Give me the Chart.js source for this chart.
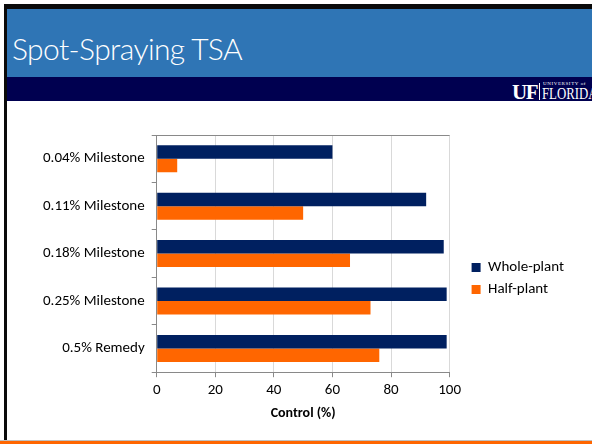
<!DOCTYPE html>
<html>
<head>
<meta charset="utf-8">
<script src="https://cdn.jsdelivr.net/npm/chart.js@4.4.1/dist/chart.umd.min.js"></script>
<style>
  html, body { margin: 0; padding: 0; background: #fff; }
  #slide { position: relative; width: 592px; height: 444px; overflow: hidden; background: #fff; font-family: Lato, "Open Sans", sans-serif; }
  #topline { position: absolute; left: 4px; top: 4px; width: 588px; height: 5px; background: #0a0a0a; }
  #leftline { position: absolute; left: 4px; top: 4px; width: 3px; height: 436px; background: #0a0a0a; }
  #header { position: absolute; left: 7px; top: 9px; width: 585px; height: 68px; background: #2f75b5; }
  #header h1 { margin: 0; position: absolute; left: 5px; top: 21px; color: #fff; font-weight: 300; font-size: 30px; letter-spacing: -0.6px; font-family: Lato, "Open Sans", sans-serif; }
  #band { position: absolute; left: 7px; top: 77px; width: 585px; height: 24px; background: #000050; }
  #logo { position: absolute; left: 512px; top: 80px; color: #fff; font-family: "Liberation Serif", serif; white-space: nowrap; }
  #logo .uf { position: absolute; left: 0; top: 0px; font-size: 21px; font-weight: bold; letter-spacing: -1.5px; }
  #logo .bar { position: absolute; left: 27px; top: 3px; width: 1px; height: 17px; background: #fff; }
  #logo .univ { position: absolute; left: 31px; top: 1px; font-size: 5px; letter-spacing: 0.6px; }
  #logo .fl { position: absolute; left: 30px; top: 5px; font-size: 16px; transform: scaleX(0.8); transform-origin: left top; }
  #grayline { position: absolute; left: 0; top: 440px; width: 592px; height: 1px; background: #c0c0c0; }
  #orange { position: absolute; left: 0; top: 441px; width: 592px; height: 3px; background: #ff6600; }
  #wrap { position: absolute; left: 7px; top: 101px; width: 585px; height: 338px; }
</style>
</head>
<body>
<div id="slide">
  <div id="header"><h1>Spot-Spraying TSA</h1></div>
  <div id="band"></div>
  <div id="logo"><span class="uf">UF</span><span class="bar"></span><span class="univ">UNIVERSITY of</span><span class="fl">FLORIDA</span></div>
  <div id="topline"></div>
  <div id="leftline"></div>
  <div id="wrap"><canvas id="chart"></canvas></div>
  <div id="grayline"></div>
  <div id="orange"></div>
</div>
<script>
const treatments = ['0.04% Milestone', '0.11% Milestone', '0.18% Milestone', '0.25% Milestone', '0.5% Remedy'];
const wholePlant = [60, 92, 98, 99, 99];
const halfPlant = [7, 50, 66, 73, 76];
const xTicks = [0, 20, 40, 60, 80, 100];

const fontFam = 'Carlito, Lato, "Open Sans", sans-serif';

// top edge of the plot box
const plotFrame = {
    id: 'plotFrame',
    afterDraw(chart) {
        const a = chart.chartArea;
        const c = chart.ctx;
        c.save();
        c.strokeStyle = '#898989';
        c.lineWidth = 1;
        c.beginPath();
        c.moveTo(a.left, a.top + 0.5);
        c.lineTo(a.right, a.top + 0.5);
        c.stroke();
        c.restore();
    }
};

var ctx = document.querySelector('#chart').getContext('2d');
var chart = new Chart(ctx, {
    type: 'bar',
    data: {
        labels: treatments,
        datasets: [{
            label: 'Whole-plant',
            data: wholePlant,
            backgroundColor: '#002060',
            barPercentage: 1,
            categoryPercentage: 0.57
        },
        {
            label: 'Half-plant',
            data: halfPlant,
            backgroundColor: '#ff6600',
            barPercentage: 1,
            categoryPercentage: 0.57
        }]
    },
    options: {
        indexAxis: 'y',
        responsive: true,
        maintainAspectRatio: false,
        animation: false,
        layout: { padding: { left: 29, top: 34, right: 18, bottom: 17 } },
        plugins: {
            tooltip: { enabled: false },
            legend: {
                position: 'right',
                align: 'center',
                labels: {
                    boxWidth: 9,
                    boxHeight: 9,
                    padding: 7,
                    color: '#000',
                    font: { family: fontFam, size: 15 }
                }
            }
        },
        scales: {
            x: {
                min: 0,
                max: 100,
                afterBuildTicks: (s) => { s.ticks = xTicks.map(v => ({ value: v })); },
                grid: { color: '#d9d9d9', tickColor: '#898989', tickLength: 5 },
                border: { color: '#898989' },
                ticks: { color: '#000', padding: 4, font: { family: fontFam, size: 15 } },
                title: { display: true, text: 'Control (%)', color: '#000', padding: { top: 2, bottom: 0 }, font: { family: fontFam, size: 14, weight: 'bold' } }
            },
            y: {
                grid: { offset: true, drawOnChartArea: false, tickColor: '#898989', tickLength: 5 },
                border: { color: '#898989' },
                ticks: { color: '#000', padding: 7, font: { family: fontFam, size: 15 } }
            },
            // hidden spacer between plot and legend
            gap: {
                type: 'category',
                axis: 'y',
                position: 'right',
                display: false,
                afterFit: (s) => { s.width = 15; }
            }
        }
    },
    plugins: [plotFrame]
});
</script>
</body>
</html>
